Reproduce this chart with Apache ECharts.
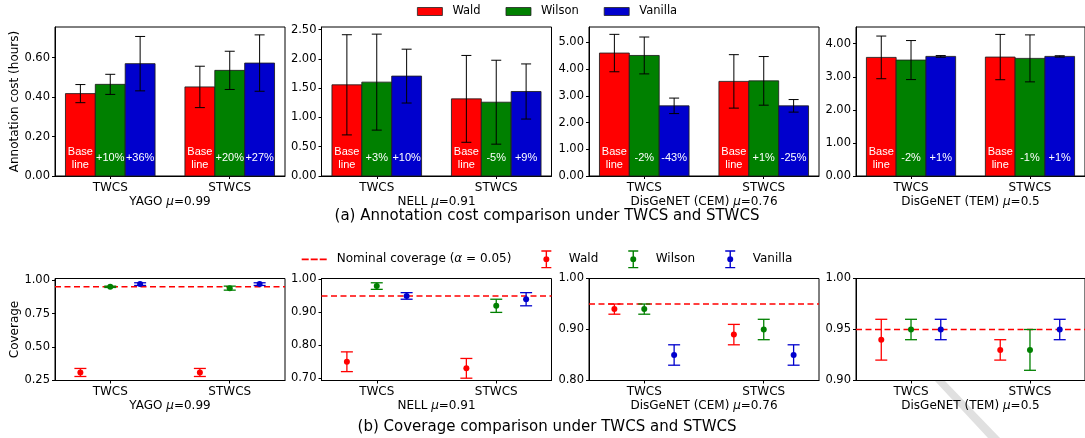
<!DOCTYPE html>
<html><head><meta charset="utf-8">
<script src="https://cdn.jsdelivr.net/npm/echarts@6/dist/echarts.min.js"></script>
<style>html,body{margin:0;padding:0;background:#fff}#c{width:1085px;height:438px}</style>
</head><body><div id="c"></div>
<script>
// ---------------- data ----------------
const CATS = ['TWCS', 'STWCS'];
const METHODS = ['Wald', 'Wilson', 'Vanilla'];
const NOMINAL_NAME = 'Nominal coverage (α = 0.05)';
const NOMINAL = [0.95];
const PANEL_NAMES = ['YAGO ', 'NELL ', 'DisGeNET (CEM) ', 'DisGeNET (TEM) '];
const PANEL_MU = ['0.99', '0.91', '0.76', '0.5'];

// Annotation cost (hours); rows: Wald, Wilson, Vanilla; cols: TWCS, STWCS
const COST_YAGO = [[0.418, 0.452], [0.465, 0.536], [0.570, 0.573]];
const COST_YAGO_ERR = [[0.046, 0.105], [0.051, 0.097], [0.138, 0.143]];
const COST_NELL = [[1.558, 1.318], [1.604, 1.261], [1.707, 1.444]];
const COST_NELL_ERR = [[0.856, 0.742], [0.820, 0.717], [0.460, 0.471]];
const COST_CEM = [[4.60, 3.54], [4.51, 3.56], [2.625, 2.625]];
const COST_CEM_ERR = [[0.70, 1.00], [0.69, 0.91], [0.29, 0.235]];
const COST_TEM = [[3.586, 3.596], [3.505, 3.556], [3.616, 3.616]];
const COST_TEM_ERR = [[0.645, 0.685], [0.59, 0.71], [0.025, 0.02]];

const GAIN_YAGO = [['Base\nline', 'Base\nline'], ['+10%', '+20%'], ['+36%', '+27%']];
const GAIN_NELL = [['Base\nline', 'Base\nline'], ['+3%', '-5%'], ['+10%', '+9%']];
const GAIN_CEM = [['Base\nline', 'Base\nline'], ['-2%', '+1%'], ['-43%', '-25%']];
const GAIN_TEM = [['Base\nline', 'Base\nline'], ['-2%', '-1%'], ['+1%', '+1%']];

// Coverage; rows: Wald, Wilson, Vanilla; cols: TWCS, STWCS
const COV_YAGO = [[0.31, 0.31], [0.95, 0.94], [0.97, 0.97]];
const COV_YAGO_ERR = [[0.03, 0.03], [0.005, 0.015], [0.01, 0.01]];
const COV_NELL = [[0.75, 0.73], [0.98, 0.92], [0.95, 0.94]];
const COV_NELL_ERR = [[0.03, 0.03], [0.01, 0.02], [0.01, 0.02]];
const COV_CEM = [[0.94, 0.89], [0.94, 0.90], [0.85, 0.85]];
const COV_CEM_ERR = [[0.01, 0.02], [0.01, 0.02], [0.02, 0.02]];
const COV_TEM = [[0.94, 0.93], [0.95, 0.93], [0.95, 0.95]];
const COV_TEM_ERR = [[0.02, 0.01], [0.01, 0.02], [0.01, 0.01]];

// axis ticks / ranges
const COST_TICKS = [[0, 0.2, 0.4, 0.6], [0, 0.5, 1, 1.5, 2, 2.5], [0, 1, 2, 3, 4, 5], [0, 1, 2, 3, 4]];
const COST_MAX = [0.756, 2.546, 5.575, 4.505];
const COV_TICKS = [[0.25, 0.5, 0.75, 1.0], [0.7, 0.8, 0.9, 1.0], [0.8, 0.9, 1.0], [0.9, 0.95, 1.0]];
const COV_MIN = [0.25, 0.693, 0.8, 0.9];
const COV_MAX = [1.012, 1.003, 1.0, 1.0];
const X_MIN = -0.4625, X_MAX = 1.4625;

// ---------------- build ----------------
const COLORS = ['#ff0000', '#008000', '#0000cd'];
const FONT = 'DejaVu Sans';
const BAR_W = 0.25;
const COSTS = [COST_YAGO, COST_NELL, COST_CEM, COST_TEM];
const COST_ERRS = [COST_YAGO_ERR, COST_NELL_ERR, COST_CEM_ERR, COST_TEM_ERR];
const GAINS = [GAIN_YAGO, GAIN_NELL, GAIN_CEM, GAIN_TEM];
const COVS = [COV_YAGO, COV_NELL, COV_CEM, COV_TEM];
const COV_ERRS = [COV_YAGO_ERR, COV_NELL_ERR, COV_CEM_ERR, COV_TEM_ERR];
const LEFTS = [55, 321.5, 589, 856];

const grids = [], xAxes = [], yAxes = [], series = [];
const txt = {fontFamily: FONT, color: '#000'};

for (let r = 0; r < 2; r++) {
  for (let p = 0; p < 4; p++) {
    const g = r * 4 + p;
    grids.push({left: LEFTS[p], width: 230, top: r === 0 ? 27 : 278.5, height: r === 0 ? 149 : 102,
      show: true, borderColor: '#000', borderWidth: 1, backgroundColor: '#fff'});
    xAxes.push({gridIndex: g, type: 'value', min: X_MIN, max: X_MAX,
      axisLine: {show: true, onZero: false, lineStyle: {color: '#000', width: 1}},
      axisTick: {show: true, customValues: [0, 1], length: 3, lineStyle: {color: '#000'}},
      axisLabel: {customValues: [0, 1], formatter: v => CATS[Math.round(v)], margin: 5.5, fontSize: 12, ...txt},
      splitLine: {show: false},
      name: '{n|' + PANEL_NAMES[p] + '}{i|μ}{n|=' + PANEL_MU[p] + '}',
      nameLocation: 'middle', nameGap: 19.5,
      nameTextStyle: {fontSize: 12, ...txt, rich: {n: {fontSize: 12, ...txt}, i: {fontSize: 12, fontStyle: 'italic', ...txt}}}
    });
    const ticks = r === 0 ? COST_TICKS[p] : COV_TICKS[p];
    yAxes.push({gridIndex: g, type: 'value',
      min: r === 0 ? 0 : COV_MIN[p], max: r === 0 ? COST_MAX[p] : COV_MAX[p],
      axisLine: {show: true, onZero: false, lineStyle: {color: '#000', width: 1}},
      axisTick: {show: true, customValues: ticks, length: 3, lineStyle: {color: '#000'}},
      axisLabel: {customValues: ticks, formatter: v => v.toFixed(2), margin: 5, fontSize: 11.5, ...txt},
      splitLine: {show: false},
      name: p === 0 ? (r === 0 ? 'Annotation cost (hours)' : 'Coverage') : '',
      nameLocation: 'middle', nameGap: 34, nameTextStyle: {fontSize: 12, ...txt}
    });
    for (let m = 0; m < 3; m++) {
      if (r === 0) {
        const means = COSTS[p], errs = COST_ERRS[p], labels = GAINS[p];
        series.push({type: 'custom', name: METHODS[m], xAxisIndex: g, yAxisIndex: g, z: 3,
          itemStyle: {color: COLORS[m]},
          data: CATS.map((c, i) => [i, means[m][i], errs[m][i]]),
          encode: {x: 0, y: 1},
          renderItem: (params, api) => {
            const i = params.dataIndex;
            const xc = api.value(0) + (m - 1) * BAR_W, v = api.value(1), e = api.value(2);
            const pl = api.coord([xc - BAR_W / 2, v]);
            const pr = api.coord([xc + BAR_W / 2, 0]);
            const pt = api.coord([xc, v + e]), pb = api.coord([xc, v - e]);
            const cap = 5;
            const ls = {stroke: '#000', lineWidth: 1};
            return {type: 'group', children: [
              {type: 'rect', shape: {x: pl[0], y: pl[1], width: pr[0] - pl[0], height: pr[1] - pl[1]},
                style: {fill: COLORS[m], stroke: 'rgba(30,30,30,0.85)', lineWidth: 1}},
              {type: 'text', x: pt[0], y: pr[1] - 18,
                style: {text: labels[m][i], fill: '#fff', fontSize: 11, fontFamily: 'Liberation Sans',
                  align: 'center', verticalAlign: 'middle', lineHeight: 13}},
              {type: 'line', shape: {x1: pt[0], y1: pt[1], x2: pb[0], y2: pb[1]}, style: ls},
              {type: 'line', shape: {x1: pt[0] - cap, y1: pt[1], x2: pt[0] + cap, y2: pt[1]}, style: ls},
              {type: 'line', shape: {x1: pb[0] - cap, y1: pb[1], x2: pb[0] + cap, y2: pb[1]}, style: ls}
            ]};
          }
        });
      } else {
        const means = COVS[p], errs = COV_ERRS[p];
        series.push({type: 'custom', name: METHODS[m], xAxisIndex: g, yAxisIndex: g, z: 4,
          itemStyle: {color: COLORS[m]},
          data: CATS.map((c, i) => [i, means[m][i], errs[m][i]]),
          encode: {x: 0, y: 1},
          renderItem: (params, api) => {
            const xc = api.value(0) + (m - 1) * BAR_W, v = api.value(1), e = api.value(2);
            const pc = api.coord([xc, v]), pt = api.coord([xc, v + e]), pb = api.coord([xc, v - e]);
            const cap = 6;
            const ls = {stroke: COLORS[m], lineWidth: 1.3};
            return {type: 'group', children: [
              {type: 'line', shape: {x1: pc[0], y1: pt[1], x2: pc[0], y2: pb[1]}, style: ls},
              {type: 'line', shape: {x1: pc[0] - cap, y1: pt[1], x2: pc[0] + cap, y2: pt[1]}, style: ls},
              {type: 'line', shape: {x1: pc[0] - cap, y1: pb[1], x2: pc[0] + cap, y2: pb[1]}, style: ls},
              {type: 'circle', shape: {cx: pc[0], cy: pc[1], r: 3}, style: {fill: COLORS[m]}}
            ]};
          }
        });
      }
    }
    if (r === 1) {
      series.push({type: 'custom', name: NOMINAL_NAME, xAxisIndex: g, yAxisIndex: g, z: 2,
        itemStyle: {color: '#ff0000'},
        data: NOMINAL.map(v => [0, v]),
        encode: {x: 0, y: 1},
        renderItem: (params, api) => {
          const cs = params.coordSys;
          const y = api.coord([0, api.value(1)])[1];
          return {type: 'line', shape: {x1: cs.x, y1: y, x2: cs.x + cs.width, y2: y},
            style: {stroke: '#ff0000', lineWidth: 1.6, lineDash: [6, 3.5]}};
        }
      });
    }
  }
}

const ERR_ICON = 'path://M0,0h10v1.4h-10zM4.3,0h1.4v18h-1.4zM0,16.6h10v1.4h-10zM2,9a3,3 0 1,1 6,0a3,3 0 1,1 -6,0z';
const DASH_ICON = 'path://M0,0h7v1.8h-7zM9,0h7v1.8h-7zM18,0h7v1.8h-7z';

const option = {
  animation: false,
  textStyle: {fontFamily: FONT},
  grid: grids, xAxis: xAxes, yAxis: yAxes, series: series,
  legend: [
    {top: 5.5, left: 417, padding: 0, itemWidth: 25, itemHeight: 8, itemGap: 25, icon: 'rect', selectedMode: false,
      data: METHODS, itemStyle: {borderColor: '#222', borderWidth: 0.8},
      textStyle: {fontSize: 11.5, fontFamily: FONT, color: '#000', padding: [0, 0, 0, 5]}},
    {top: 250.3, left: 301.7, padding: 0, itemWidth: 25, itemHeight: 18, itemGap: 30, selectedMode: false,
      data: [{name: NOMINAL_NAME, icon: DASH_ICON}].concat(METHODS.map(n => ({name: n, icon: ERR_ICON}))),
      itemStyle: {borderWidth: 0},
      formatter: n => n === NOMINAL_NAME ? '{n|Nominal coverage (}{i|α}{n| = 0.05)}' : '{n|' + n + '}',
      textStyle: {fontSize: 12, fontFamily: FONT, color: '#000', padding: [0, 0, 0, 5],
        rich: {n: {fontSize: 12, fontFamily: FONT, color: '#000'},
               i: {fontSize: 12, fontFamily: FONT, fontStyle: 'italic', color: '#000'}}}}
  ],
  graphic: [
    {type: 'polygon', z: -1, shape: {points: [[935, 381], [945, 381], [1000, 438], [988, 438]]}, style: {fill: '#e0e0e0'}},
    {type: 'text', x: 547, y: 216, style: {text: '(a) Annotation cost comparison under TWCS and STWCS', fontSize: 15, fontFamily: FONT, fill: '#000', align: 'center', verticalAlign: 'middle'}},
    {type: 'text', x: 547, y: 427, style: {text: '(b) Coverage comparison under TWCS and STWCS', fontSize: 15, fontFamily: FONT, fill: '#000', align: 'center', verticalAlign: 'middle'}}
  ]
};
const chart = echarts.init(document.getElementById('c'), null, {renderer: 'canvas'});
chart.setOption(option);
</script>
</body></html>
